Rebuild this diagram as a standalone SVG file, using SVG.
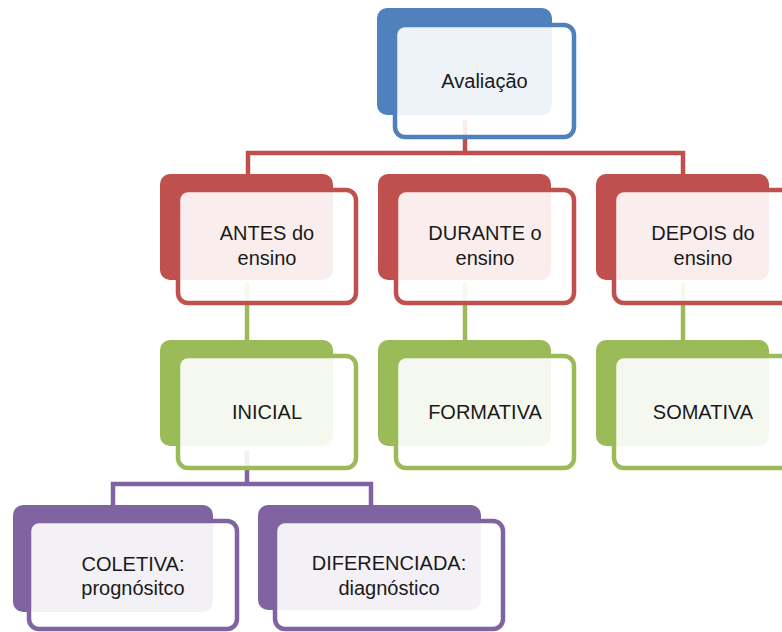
<svg xmlns="http://www.w3.org/2000/svg" width="782" height="632" viewBox="0 0 782 632">
<style>
.back{stroke:none}
.front{fill:#ffffff;fill-opacity:0.9;stroke-width:4.5}
.conn{fill:none;stroke-width:4.5}
.lbl{font-family:"Liberation Sans",Arial,sans-serif;font-size:20px;fill:#1a1a1a;text-anchor:middle}
.blue .back{fill:#4F81BD}.blue .front{stroke:#4F81BD}
.red .back{fill:#C0504D}.red .front{stroke:#C0504D}
.green .back{fill:#9BBB59}.green .front{stroke:#9BBB59}
.purple .back{fill:#8064A2}.purple .front{stroke:#8064A2}
</style>
<rect width="782" height="632" fill="#ffffff"/>
<g id="connectors">
<path class="conn" stroke="#C0504D" d="M248,175 V153 H683 V175 M465,120 V153"/>
<path class="conn" stroke="#9BBB59" d="M247,283 V340 M465,283 V340 M683,283 V340"/>
<path class="conn" stroke="#8064A2" d="M113,505 V484 H371 V505 M247,450 V484"/>
</g>
<g id="avaliacao" class="blue">
<rect class="back" x="377" y="8" width="175" height="107" rx="10"/>
<rect class="front" x="395" y="25" width="179" height="112" rx="10"/>
<text class="lbl" x="484.5" y="88">Avaliação</text>
</g>
<g id="antes" class="red">
<rect class="back" x="160" y="174" width="173" height="106" rx="10"/>
<rect class="front" x="178" y="190" width="178" height="113" rx="10"/>
<text class="lbl" x="267" y="240">ANTES do</text>
<text class="lbl" x="267" y="265">ensino</text>
</g>
<g id="durante" class="red">
<rect class="back" x="378" y="174" width="173" height="106" rx="10"/>
<rect class="front" x="396" y="190" width="178" height="113" rx="10"/>
<text class="lbl" x="485" y="240">DURANTE o</text>
<text class="lbl" x="485" y="265">ensino</text>
</g>
<g id="depois" class="red">
<rect class="back" x="596" y="174" width="173" height="106" rx="10"/>
<rect class="front" x="614" y="190" width="178" height="113" rx="10"/>
<text class="lbl" x="703" y="240">DEPOIS do</text>
<text class="lbl" x="703" y="265">ensino</text>
</g>
<g id="inicial" class="green">
<rect class="back" x="160" y="340" width="173" height="106" rx="10"/>
<rect class="front" x="178" y="356" width="178" height="112" rx="10"/>
<text class="lbl" x="267" y="419">INICIAL</text>
</g>
<g id="formativa" class="green">
<rect class="back" x="378" y="340" width="173" height="106" rx="10"/>
<rect class="front" x="396" y="356" width="178" height="112" rx="10"/>
<text class="lbl" x="485" y="419">FORMATIVA</text>
</g>
<g id="somativa" class="green">
<rect class="back" x="596" y="340" width="173" height="106" rx="10"/>
<rect class="front" x="614" y="356" width="178" height="112" rx="10"/>
<text class="lbl" x="703" y="419">SOMATIVA</text>
</g>
<g id="coletiva" class="purple">
<rect class="back" x="13" y="505" width="200" height="107" rx="10"/>
<rect class="front" x="29" y="521" width="208" height="108" rx="10"/>
<text class="lbl" x="133" y="571">COLETIVA:</text>
<text class="lbl" x="133" y="595">prognósitco</text>
</g>
<g id="diferenciada" class="purple">
<rect class="back" x="258" y="505" width="223" height="105" rx="10"/>
<rect class="front" x="275" y="521" width="228" height="108" rx="10"/>
<text class="lbl" x="389" y="570">DIFERENCIADA:</text>
<text class="lbl" x="389" y="595">diagnóstico</text>
</g>
</svg>
